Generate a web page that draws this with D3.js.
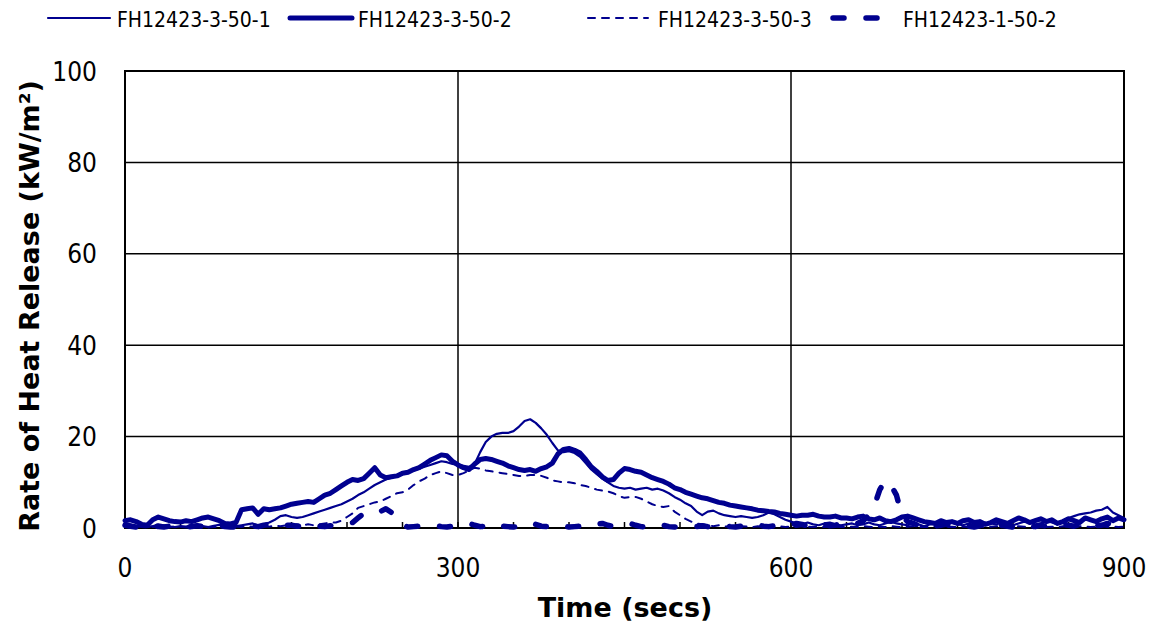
<!DOCTYPE html>
<html>
<head>
<meta charset="utf-8">
<script src="https://cdn.jsdelivr.net/npm/d3@7"></script>
<style>
  body { margin: 0; background: #fff; }
  text { font-family: 'DejaVu Sans Condensed', 'DejaVu Sans', sans-serif; fill: #000; }
  text.title { font-family: 'DejaVu Sans', sans-serif; font-weight: bold; font-size: 27px; }
</style>
</head>
<body>
<div id="chart"></div>
<script>
'use strict';

// heat release curves, one reading every 5 secs
var seriesNames = ['FH12423-3-50-1', 'FH12423-3-50-2', 'FH12423-3-50-3', 'FH12423-1-50-2'];
var times = d3.range(0, 901, 5);

var rate1 = [
  1.0, 0.8, 0.4, 0.6, 0.2, 0.4, 0.8, 0.6, 0.3, 0.2,
  0.4, 0.3, 0.6, 0.8, 0.4, 0.2, 0.5, 0.7, 0.3, 0.2,
  0.4, 0.6, 0.8, 1.0, 0.6, 0.8, 1.2, 1.8, 2.6, 2.8,
  2.4, 2.2, 2.4, 2.8, 3.2, 3.6, 4.0, 4.4, 4.8, 5.2,
  5.8, 6.4, 7.2, 7.8, 8.6, 9.4, 10.0, 10.6, 11.0, 11.4,
  11.8, 12.2, 12.6, 13.0, 13.4, 13.8, 14.2, 14.6, 14.4, 14.0,
  13.8, 13.6, 13.4, 14.0, 16.6, 18.8, 20.0, 20.6, 20.8, 20.8,
  21.2, 22.2, 23.4, 23.8, 23.0, 21.8, 20.4, 18.6, 17.0, 16.6,
  16.8, 16.4, 15.6, 14.2, 12.8, 11.8, 10.8, 10.0, 9.2, 8.8,
  8.6, 8.8, 8.4, 8.6, 8.8, 8.4, 8.6, 8.2, 7.6, 6.8,
  6.2, 5.4, 4.8, 3.6, 2.8, 3.6, 3.8, 3.2, 2.8, 2.6,
  2.4, 2.6, 2.4, 2.2, 2.4, 2.8, 3.4, 3.0, 2.4, 1.8,
  1.4, 1.0, 0.8, 1.2, 0.8, 0.6, 1.0, 1.2, 0.8, 0.6,
  0.8, 1.0, 0.6, 0.8, 1.2, 0.8, 0.6, 1.0, 1.4, 1.0,
  0.8, 0.6, 1.0, 0.8, 0.4, 0.8, 1.0, 0.6, 0.8, 1.2,
  0.8, 0.6, 1.0, 1.4, 0.8, 0.6, 1.0, 0.8, 1.2, 0.8,
  0.6, 1.0, 1.4, 1.2, 0.8, 1.0, 1.6, 1.2, 0.8, 1.4,
  2.2, 2.6, 3.0, 3.2, 3.4, 3.8, 4.0, 4.6, 3.4, 2.8,
  2.2
];

var rate2 = [
  1.6, 1.8, 1.4, 0.8, 0.6, 1.8, 2.4, 2.0, 1.6, 1.4,
  1.3, 1.6, 1.4, 1.8, 2.2, 2.4, 2.0, 1.6, 1.0, 0.9,
  1.2, 4.0, 4.2, 4.4, 3.0, 4.2, 4.0, 4.2, 4.4, 4.8,
  5.2, 5.4, 5.6, 5.8, 5.6, 6.4, 7.2, 7.6, 8.4, 9.2,
  10.0, 10.6, 10.4, 10.8, 12.0, 13.2, 11.6, 11.0, 11.2, 11.4,
  12.0, 12.2, 12.8, 13.2, 14.0, 14.8, 15.4, 16.0, 15.8, 14.6,
  13.8, 13.2, 12.8, 14.0, 15.0, 15.2, 15.0, 14.6, 14.2, 13.6,
  13.2, 12.8, 12.6, 12.8, 12.4, 13.0, 13.4, 14.2, 16.2, 17.2,
  17.4, 17.0, 16.4, 15.0, 13.4, 12.4, 11.2, 10.4, 10.6, 12.0,
  13.0, 12.8, 12.4, 12.2, 11.6, 11.0, 10.6, 10.2, 9.6, 8.8,
  8.4, 7.8, 7.4, 7.0, 6.6, 6.4, 6.0, 5.6, 5.4, 5.0,
  4.8, 4.6, 4.4, 4.2, 3.9, 3.8, 3.6, 3.5, 3.2, 3.0,
  2.8, 2.6, 2.8, 2.8, 3.0, 2.6, 2.4, 2.4, 2.6, 2.2,
  2.2, 2.0, 2.4, 2.6, 2.0, 1.8, 2.2, 1.6, 1.4, 1.8,
  2.4, 2.6, 2.2, 1.8, 1.4, 1.2, 1.0, 1.6, 1.2, 1.4,
  1.0, 1.6, 1.8, 1.2, 1.4, 0.8, 1.2, 1.8, 1.4, 1.0,
  1.6, 2.2, 1.8, 1.2, 1.6, 2.0, 1.4, 1.8, 1.0, 1.4,
  2.0, 1.6, 1.2, 2.2, 1.8, 1.4, 2.0, 2.4, 1.6, 2.2,
  1.8
];

var rate3 = [
  0.2, 0.1, 0.3, 0.2, 0.1, 0.2, 0.3, 0.1, 0.2, 0.3,
  0.2, 0.1, 0.2, 0.3, 0.2, 0.1, 0.2, 0.2, 0.1, 0.2,
  0.3, 0.2, 0.4, 0.3, 0.2, 0.4, 0.3, 0.5, 0.4, 0.6,
  0.6, 0.8, 0.6, 0.8, 0.6, 0.8, 1.0, 1.2, 1.2, 1.6,
  2.4, 3.2, 4.4, 4.8, 5.2, 5.6, 5.8, 6.4, 7.0, 7.6,
  7.8, 8.4, 9.4, 10.2, 10.8, 11.6, 12.0, 12.4, 12.0, 11.6,
  11.6, 12.0, 12.6, 13.2, 13.0, 12.6, 12.4, 12.2, 12.0, 11.8,
  11.6, 11.4, 11.4, 11.6, 11.6, 11.4, 11.0, 10.4, 10.2, 10.0,
  10.0, 9.8, 9.4, 9.2, 8.8, 8.4, 8.2, 8.0, 7.6, 7.0,
  6.6, 6.8, 6.8, 6.4, 5.8, 5.2, 4.8, 4.6, 4.8, 3.6,
  2.8, 2.0, 1.4, 1.0, 0.8, 0.6, 0.4, 0.6, 0.3, 0.4,
  0.2, 0.4, 0.3, 0.2, 0.4, 0.3, 0.2, 0.3, 0.4, 0.2,
  0.3, 0.2, 0.4, 0.3, 0.2, 0.3, 0.2, 0.4, 0.3, 0.2,
  0.2, 0.3, 0.2, 0.4, 0.3, 0.2, 0.3, 0.2, 0.4, 0.3,
  0.2, 0.3, 0.4, 0.2, 0.3, 0.2, 0.4, 0.3, 0.2, 0.3,
  0.2, 0.3, 0.2, 0.4, 0.3, 0.2, 0.3, 0.4, 0.2, 0.3,
  0.2, 0.4, 0.3, 0.2, 0.3, 0.4, 0.2, 0.3, 0.2, 0.4,
  0.3, 0.2, 0.4, 0.3, 0.2, 0.3, 0.4, 0.2, 0.3, 0.2,
  0.3
];

var rate4 = [
  0.6, 0.4, 0.2, 0.4, 0.8, 0.6, 0.3, 0.2, 0.4, 0.6,
  0.4, 0.2, 0.3, 0.5, 0.3, 0.2, 0.4, 0.6, 0.3, 0.2,
  0.2, 0.3, 0.6, 0.4, 0.3, 0.6, 0.8, 0.5, 0.4, 0.6,
  0.6, 0.4, 0.3, 0.6, 0.8, 0.4, 0.3, 0.5, 0.6, 0.8,
  0.8, 1.2, 2.2, 3.2, 3.6, 3.4, 3.6, 4.2, 3.4, 1.6,
  0.6, 0.2, 0.3, 0.4, 0.2, 0.3, 0.5, 0.3, 0.2, 0.4,
  0.6, 0.8, 1.0, 0.6, 0.3, 0.4, 0.8, 1.0, 0.4, 0.3,
  0.2, 0.4, 0.8, 1.2, 0.8, 0.4, 0.3, 0.6, 0.8, 0.4,
  0.2, 0.3, 0.4, 0.2, 0.3, 0.8, 1.0, 0.6, 0.3, 0.4,
  0.8, 1.0, 0.6, 0.3, 0.2, 0.4, 0.8, 0.6, 0.3, 0.2,
  0.3, 0.4, 0.2, 0.3, 0.5, 0.3, 0.2, 0.4, 0.6, 0.3,
  0.2, 0.4, 0.3, 0.6, 0.8, 0.4, 0.3, 0.5, 0.7, 0.4,
  0.6, 1.0, 0.8, 0.4, 0.6, 1.2, 0.8, 0.5, 0.6, 1.0,
  1.2, 0.8, 1.0, 1.6, 2.8, 4.8, 8.4, 10.4, 9.4, 7.2,
  2.6, 1.4, 1.0, 0.6, 1.2, 0.8, 0.4, 0.6, 0.8, 0.4,
  0.3, 0.6, 0.4, 0.2, 0.5, 0.8, 0.4, 0.3, 0.6, 0.4,
  0.2, 0.6, 0.8, 0.4, 0.3, 0.6, 0.4, 0.2, 0.5, 0.8,
  0.6, 0.4, 0.8, 1.2, 0.8, 0.5, 0.6, 1.0, 0.8, 1.4,
  1.2
];

var xTicks = [0, 300, 600, 900];
var yTicks = [0, 20, 40, 60, 80, 100];
var xMinorTicks = d3.range(0, 901, 50);

var width = 1153,
  height = 630,
  plotLeft = 125,
  plotRight = 1124,
  plotTop = 71,
  plotBottom = 528,
  blue = '#00008f';

// line look for each series: thin, thick, thin dashed, thick dashed
var styles = [
  {w: 2.2, dash: null},
  {w: 5, dash: null},
  {w: 2, dash: '7,7'},
  {w: 5.5, dash: '11,22'}
];

var x = d3.scaleLinear().domain([0, 900]).range([plotLeft, plotRight]);
var y = d3.scaleLinear().domain([0, 100]).range([plotBottom, plotTop]);

var svg = d3.select('#chart').append('svg')
  .attr('width', width)
  .attr('height', height);

// grid
svg.append('g')
  .selectAll('line')
  .data(yTicks.slice(1))
  .enter().append('line')
  .attr('x1', plotLeft).attr('x2', plotRight)
  .attr('y1', function(d) { return y(d); })
  .attr('y2', function(d) { return y(d); })
  .attr('stroke', '#000').attr('stroke-width', 1.5);

svg.append('g')
  .selectAll('line')
  .data(xTicks.slice(1))
  .enter().append('line')
  .attr('x1', function(d) { return x(d); })
  .attr('x2', function(d) { return x(d); })
  .attr('y1', plotTop).attr('y2', plotBottom)
  .attr('stroke', '#000').attr('stroke-width', 1.5);

svg.append('rect')
  .attr('x', plotLeft).attr('y', plotTop)
  .attr('width', plotRight - plotLeft).attr('height', plotBottom - plotTop)
  .attr('fill', 'none').attr('stroke', '#000').attr('stroke-width', 2);

// minor ticks pointing up from the time axis
svg.append('g')
  .selectAll('line')
  .data(xMinorTicks)
  .enter().append('line')
  .attr('x1', function(d) { return x(d); })
  .attr('x2', function(d) { return x(d); })
  .attr('y1', plotBottom).attr('y2', plotBottom - 6)
  .attr('stroke', '#000').attr('stroke-width', 1.5);

// tick labels
svg.append('g')
  .selectAll('text')
  .data(yTicks)
  .enter().append('text')
  .attr('x', 97)
  .attr('y', function(d) { return y(d) + 9.5; })
  .attr('text-anchor', 'end')
  .style('font-size', '26px')
  .text(function(d) { return d; });

svg.append('g')
  .selectAll('text')
  .data(xTicks)
  .enter().append('text')
  .attr('x', function(d) { return x(d); })
  .attr('y', 577)
  .attr('text-anchor', 'middle')
  .style('font-size', '26px')
  .text(function(d) { return d; });

// axis titles
svg.append('text')
  .attr('class', 'title')
  .attr('x', 625).attr('y', 617)
  .attr('text-anchor', 'middle')
  .text('Time (secs)');

svg.append('text')
  .attr('class', 'title')
  .attr('transform', 'translate(39,306) rotate(-90)')
  .attr('text-anchor', 'middle')
  .text('Rate of Heat Release (kW/m²)');

// curves
var line = d3.line()
  .x(function(d, i) { return x(times[i]); })
  .y(function(d) { return y(d); });

var allRates = [rate1, rate2, rate3, rate4];

svg.append('g')
  .selectAll('path')
  .data(allRates)
  .enter().append('path')
  .attr('d', line)
  .attr('fill', 'none')
  .attr('stroke', blue)
  .attr('stroke-width', function(d, i) { return styles[i].w; })
  .attr('stroke-dasharray', function(d, i) { return styles[i].dash; })
  .attr('stroke-linecap', 'round')
  .attr('stroke-linejoin', 'round');

// legend across the top
var legendPos = [[48, 110, 117], [290, 352, 358], [588, 648, 658], [833, 885, 903]];

var item = svg.append('g')
  .selectAll('g')
  .data(seriesNames)
  .enter().append('g');

item.append('line')
  .attr('x1', function(d, i) { return legendPos[i][0]; })
  .attr('x2', function(d, i) { return legendPos[i][1]; })
  .attr('y1', 18).attr('y2', 18)
  .attr('stroke', blue)
  .attr('stroke-width', function(d, i) { return styles[i].w; })
  .attr('stroke-dasharray', function(d, i) { return styles[i].dash; })
  .attr('stroke-linecap', 'round');

item.append('text')
  .attr('x', function(d, i) { return legendPos[i][2]; })
  .attr('y', 27)
  .style('font-size', '21px')
  .text(function(d) { return d; });
</script>
</body>
</html>
